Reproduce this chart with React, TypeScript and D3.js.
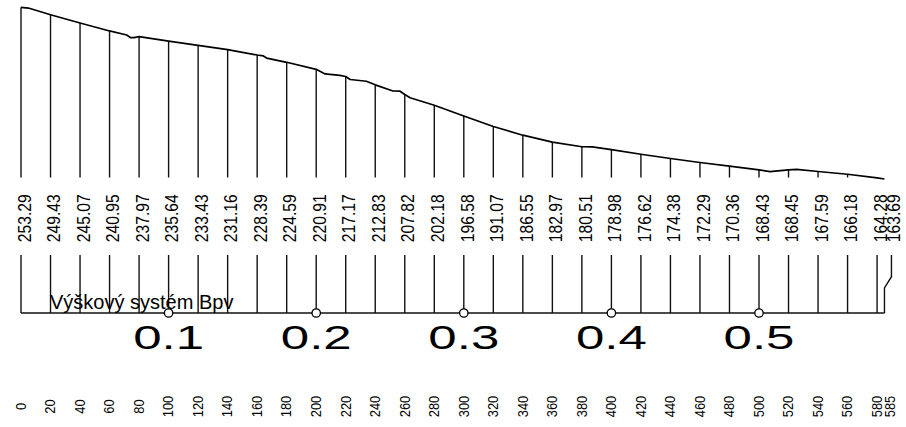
import React from "react";
import * as d3 from "d3";

const stations = [0, 20, 40, 60, 80, 100, 120, 140, 160, 180, 200, 220, 240, 260, 280, 300, 320, 340, 360, 380, 400, 420, 440, 460, 480, 500, 520, 540, 560, 580, 585];
const elevations = [253.29, 249.43, 245.07, 240.95, 237.97, 235.64, 233.43, 231.16, 228.39, 224.59, 220.91, 217.17, 212.83, 207.82, 202.18, 196.58, 191.07, 186.55, 182.97, 180.51, 178.98, 176.62, 174.38, 172.29, 170.36, 168.43, 168.45, 167.59, 166.18, 164.28, 163.69];
const terrainDist = [5, 71.6, 74.3, 76.6, 164.2, 166.4, 206, 216, 223, 234, 252, 256.8, 263.6, 387, 507.5, 525.5];
const terrainElev = [252.9, 238.85, 237.44, 237.44, 227.9, 226.8, 218.5, 217.8, 215.6, 214.7, 209.6, 209.5, 206.1, 180.45, 167.5, 168.75];
const kmMarks = [0.1, 0.2, 0.3, 0.4, 0.5];
const systemLabel = "Výškový systém Bpv";

const FONT = "'Liberation Sans', Arial, Helvetica, sans-serif";

export default function App() {
  const W = 906, H = 427;
  const x = d3.scaleLinear().domain([0, 500]).range([21, 759]);
  const y = d3.scaleLinear().domain([d3.min(elevations)!, d3.max(elevations)!]).range([179, 7.3]);

  const profile = stations
    .map((s, i) => [s, elevations[i]] as [number, number])
    .concat(terrainDist.map((d, i) => [d, terrainElev[i]] as [number, number]))
    .sort((a, b) => a[0] - b[0]);
  const line = d3.line<[number, number]>().x(d => x(d[0])).y(d => y(d[1]));

  const topBottom = 177.5;
  const lowTop = 255, lowBase = 313;
  const last = stations.length - 1;
  const shift = (i: number) => (i === last ? 5.5 : 0);

  return (
    <svg width={W} height={H} style={{ position: "absolute", left: 0, top: 0, background: "#fff" }} fontFamily={FONT}>
      {/* upper verticals */}
      {stations.map((s, i) => {
        const yt = y(elevations[i]);
        if (yt >= topBottom) return null;
        return <line key={"u" + s} x1={x(s)} x2={x(s)} y1={yt} y2={topBottom} stroke="#111" strokeWidth={1.4} />;
      })}
      <path d={line(profile)!} fill="none" stroke="#000" strokeWidth={1.7} strokeLinejoin="round" />

      {/* elevation labels */}
      {stations.map((s, i) => (
        <text key={"e" + s} transform={`translate(${x(s) + 9.7 + shift(i)},218.3) rotate(-90) scale(0.87,1)`} textAnchor="middle" fontSize={18} fill="#000">
          {elevations[i].toFixed(2)}
        </text>
      ))}

      {/* lower verticals */}
      {stations.map((s, i) => {
        const sx = x(s);
        if (i === last) {
          const tx = sx + 5.5 + 1.5;
          return <path key={"l" + s} d={`M${tx},${lowTop}L${tx},276.7L${sx},288L${sx},${lowBase}`} fill="none" stroke="#111" strokeWidth={1.4} />;
        }
        return <line key={"l" + s} x1={sx} x2={sx} y1={lowTop} y2={lowBase} stroke="#111" strokeWidth={1.4} />;
      })}
      <line x1={x(0)} x2={x(585)} y1={lowBase} y2={lowBase} stroke="#111" strokeWidth={1.4} />

      <text x={50} y={308.5} fontSize={20} fill="#000">{systemLabel}</text>

      {kmMarks.map(k => (
        <circle key={"c" + k} cx={x(k * 1000)} cy={lowBase} r={4.2} fill="#fff" stroke="#000" strokeWidth={1.3} />
      ))}
      {kmMarks.map(k => (
        <text key={"k" + k} transform={`translate(${x(k * 1000)},349.3) scale(1.5,1)`} textAnchor="middle" fontSize={34} fill="#000">
          {String(k)}
        </text>
      ))}

      {/* station labels */}
      {stations.map((s, i) => (
        <text key={"s" + s} transform={`translate(${x(s) + 4.8 + shift(i)},406.5) rotate(-90) scale(0.92,1)`} textAnchor="middle" fontSize={14} fill="#000">
          {String(s)}
        </text>
      ))}
    </svg>
  );
}
